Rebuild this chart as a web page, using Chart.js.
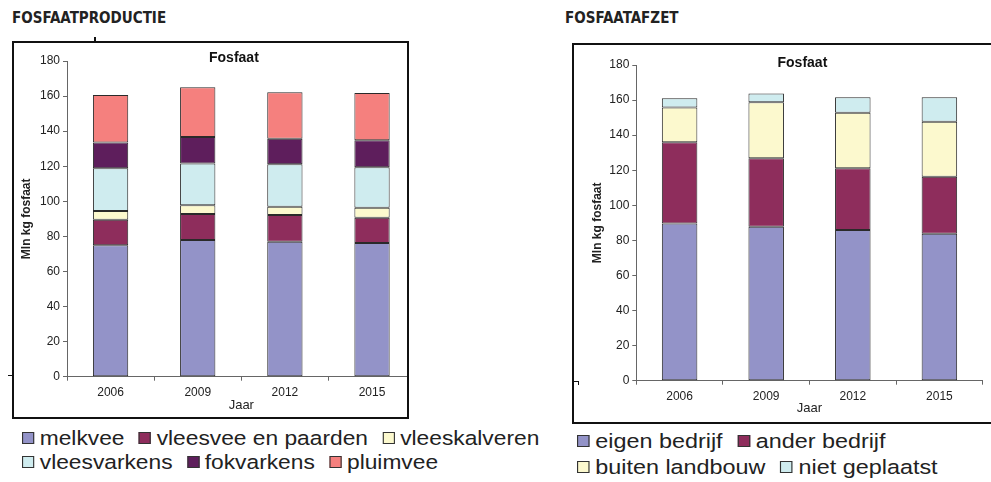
<!DOCTYPE html>
<html><head><meta charset="utf-8">
<script src="https://cdn.jsdelivr.net/npm/chart.js@4"></script>
<style>
html,body{margin:0;padding:0;background:#fff;width:991px;height:482px;overflow:hidden;position:relative;font-family:"Liberation Sans",Arial,sans-serif;}
.h{position:absolute;font-family:"DejaVu Sans Condensed","Liberation Sans Narrow",sans-serif;font-weight:bold;font-size:15px;color:#222;line-height:1;}
.box{position:absolute;border:2px solid #111;overflow:hidden;box-sizing:border-box;background:#fff;}
.box canvas{position:absolute;}
.legend{position:absolute;font-size:20.5px;color:#222;transform-origin:0 0;}
.row{display:flex;align-items:center;white-space:nowrap;}
.item{display:flex;align-items:center;margin-right:13px;}
.sw{width:9px;height:10px;border:1.5px solid #333;margin-right:5px;}
.mk{position:absolute;background:#111;}
</style></head>
<body>
<div class="h" style="left:12px;top:11px;">FOSFAATPRODUCTIE</div>
<div class="h" style="left:565px;top:11px;">FOSFAATAFZET</div>
<div class="box" style="left:12px;top:41px;width:397px;height:378px;"><canvas id="c1" width="430" height="420" style="left:-14px;top:-43px;"></canvas></div>
<div class="box" style="left:572px;top:43px;width:425px;height:381px;"><canvas id="c2" width="432" height="430" style="left:-14px;top:-45px;"></canvas></div>
<div class="mk" style="left:94px;top:37px;width:2px;height:4px;"></div>
<div class="mk" style="left:8px;top:375px;width:4px;height:1px;"></div>
<div class="mk" style="left:574px;top:381px;width:5px;height:1px;"></div>
<div class="mk" style="left:578px;top:381px;width:1px;height:4px;"></div>
<div class="legend" id="lg1" style="left:22px;top:426px;transform:scaleX(1.11);"></div>
<div class="legend" id="lg2" style="left:577px;top:428px;transform:scaleX(1.14);"></div>
<script>
// ---- data ----
const years = ['2006', '2009', '2012', '2015'];
const chartTitle = 'Fosfaat';
const xTitle = 'Jaar';
const yTitle = 'Mln kg fosfaat';
const yMin = 0, yMax = 180, yStep = 20;

// Fosfaatproductie (mln kg)
const melkvee         = [75.0, 78.0, 77.0, 76.3];
const vleesveePaarden = [14.5, 14.7, 15.2, 14.3];
const vleeskalveren   = [5.0, 5.1, 4.7, 5.7];
const vleesvarkens    = [24.3, 23.7, 24.2, 23.1];
const fokvarkens      = [14.8, 15.2, 14.6, 15.4];
const pluimvee        = [27.0, 28.3, 26.5, 27.0];
const productieLabels = ['melkvee', 'vleesvee en paarden', 'vleeskalveren', 'vleesvarkens', 'fokvarkens', 'pluimvee'];

// Fosfaatafzet (mln kg)
const eigenBedrijf   = [89.7, 87.8, 85.9, 83.8];
const anderBedrijf   = [46.2, 39.0, 35.2, 32.5];
const buitenLandbouw = [19.8, 31.9, 31.7, 31.4];
const nietGeplaatst  = [5.3, 5.1, 8.8, 13.9];
const afzetLabels = ['eigen bedrijf', 'ander bedrijf', 'buiten landbouw', 'niet geplaatst'];

// ---- styles ----
const productieColors = ['#9393C8', '#8E2D5C', '#FCF9CE', '#CFECEF', '#5E1E5C', '#F5807E'];
const afzetColors = ['#9393C8', '#8E2D5C', '#FCF9CE', '#CFECEF'];
const FONT = '"Liberation Sans", Arial, sans-serif';

// shifts the chart title horizontally relative to the plot-area centre
const titleShift = {
  id: 'titleShift',
  afterLayout(chart, args, opts) {
    const t = chart.titleBlock;
    if (!t) return;
    const want = (chart.chartArea.left + chart.chartArea.right) / 2 + (opts.dx || 0);
    const shift = want - (t.left + t.right) / 2;
    t.left += shift; t.right += shift;
  }
};

function makeChart(id, labelsArr, dataArr, colors, g) {
  return new Chart(document.getElementById(id), {
    type: 'bar',
    data: {
      labels: years,
      datasets: dataArr.map((d, i) => ({
        label: labelsArr[i], data: d, backgroundColor: colors[i],
        borderColor: '#2a2a2a', borderWidth: 1, borderSkipped: false,
        categoryPercentage: 1, barPercentage: g.bp
      }))
    },
    plugins: [titleShift],
    options: {
      responsive: false, animation: false,
      layout: { padding: { left: 0, right: g.pr, top: g.pt, bottom: g.pb } },
      plugins: {
        legend: { display: false }, tooltip: { enabled: false },
        titleShift: { dx: g.tdx },
        title: { display: true, text: chartTitle, color: '#111',
          font: { family: FONT, size: 14, weight: 'bold', lineHeight: 1.2 },
          padding: { top: 0, bottom: g.tpb } }
      },
      scales: {
        x: {
          stacked: true,
          grid: { display: true, drawOnChartArea: false, offset: true, tickLength: 4, color: '#666' },
          border: { display: true, color: '#666' },
          ticks: { color: '#222', font: { family: FONT, size: 12 }, padding: 4.8 },
          title: { display: true, text: xTitle, color: '#222', font: { family: FONT, size: 13, lineHeight: 1.2 }, padding: { top: 0, bottom: g.xtb } },
          afterFit: s => { s.height = 40; }
        },
        y: {
          stacked: true, min: yMin, max: yMax,
          grid: { display: true, drawOnChartArea: false, tickLength: 4, color: '#666' },
          border: { display: true, color: '#666' },
          ticks: { stepSize: yStep, color: '#222', font: { family: FONT, size: 12 }, padding: 3 },
          title: { display: true, text: yTitle, color: '#222', font: { family: FONT, size: 12, weight: 'bold', lineHeight: 1.2 }, padding: { top: g.ytp, bottom: 0 } },
          afterFit: s => { s.width = g.yw; }
        }
      }
    }
  });
}

makeChart('c1', productieLabels,
  [melkvee, vleesveePaarden, vleeskalveren, vleesvarkens, fokvarkens, pluimvee],
  productieColors,
  { bp: 0.405, pr: 14.4, pt: 49.6, pb: 3.3, tpb: -5.4, xtb: 3.4, ytp: 19.8, yw: 67, tdx: -7.4 });

makeChart('c2', afzetLabels,
  [eigenBedrijf, anderBedrijf, buitenLandbouw, nietGeplaatst],
  afzetColors,
  { bp: 0.41, pr: 9.3, pt: 54.3, pb: 9.3, tpb: -6.1, xtb: 4.1, ytp: 30.3, yw: 76.3, tdx: -7.1 });

function makeLegend(id, labelsArr, colors, rows, rowH) {
  const el = document.getElementById(id);
  rows.forEach(r => {
    const row = document.createElement('div');
    row.className = 'row'; row.style.height = rowH + 'px';
    r.forEach(i => {
      const it = document.createElement('div'); it.className = 'item';
      const sw = document.createElement('div'); sw.className = 'sw'; sw.style.background = colors[i];
      const tx = document.createElement('span'); tx.textContent = labelsArr[i];
      it.appendChild(sw); it.appendChild(tx); row.appendChild(it);
    });
    el.appendChild(row);
  });
}
makeLegend('lg1', productieLabels, productieColors, [[0, 1, 2], [3, 4, 5]], 24);
makeLegend('lg2', afzetLabels, afzetColors, [[0, 1], [2, 3]], 26);
</script>
</body></html>
